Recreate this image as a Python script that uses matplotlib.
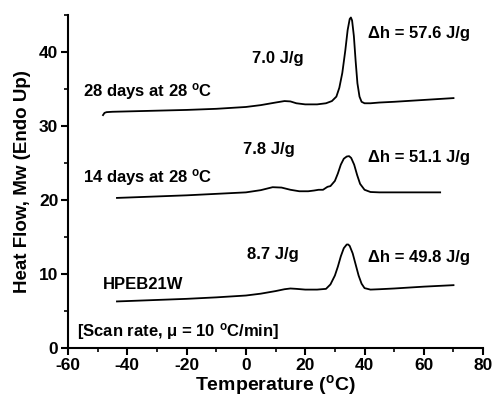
import matplotlib
matplotlib.use("Agg")
import matplotlib.pyplot as plt
from matplotlib.ticker import MultipleLocator

plt.rcParams['font.family'] = ['Liberation Sans', 'DejaVu Sans']
plt.rcParams['font.weight'] = 'bold'
plt.rcParams['axes.unicode_minus'] = False
plt.rcParams['mathtext.fontset'] = 'custom'
plt.rcParams['mathtext.rm'] = 'Liberation Sans:bold'
plt.rcParams['mathtext.bf'] = 'Liberation Sans:bold'
plt.rcParams['mathtext.it'] = 'Liberation Sans:bold'

# HPEB21W (as received)
t_0 = [-43.5, -40, -30, -20, -10, 0, 5, 10, 13, 15, 17, 20, 24, 27, 28.5, 30, 31, 32, 33, 34,
       34.5, 35, 36, 37, 38, 39, 40, 42, 45, 50, 60, 70]
y_0 = [6.3, 6.35, 6.5, 6.65, 6.85, 7.1, 7.35, 7.7, 7.95, 8.05, 8.0, 7.9, 7.9, 8.0, 8.6, 9.8, 11.0,
       12.4, 13.5, 14.0, 14.0, 13.8, 12.8, 11.3, 9.8, 8.7, 8.1, 7.9, 7.95, 8.05, 8.3, 8.5]

# 14 days at 28 C
t_14 = [-43.5, -40, -30, -20, -10, 0, 5, 9, 12, 15, 18, 21, 23, 24.5, 26, 27.5, 28.5, 30, 31, 32,
        33, 34, 34.8, 35.5, 36.5, 37.5, 38.5, 40, 42, 45, 50, 60, 65.5]
y_14 = [20.3, 20.35, 20.5, 20.65, 20.85, 21.05, 21.35, 21.75, 21.7, 21.4, 21.2, 21.2, 21.3, 21.4,
        21.4, 21.8, 21.9, 22.6, 23.6, 24.8, 25.6, 25.9, 25.95, 25.7, 24.8, 23.4, 22.2, 21.4, 21.1,
        21.05, 21.05, 21.05, 21.05]

# 28 days at 28 C
t_28 = [-48.2, -47.7, -47, -45, -40, -30, -20, -10, 0, 5, 10, 13, 15, 17, 20, 24, 27, 29, 30.5,
        31.5, 32.5, 33.5, 34.3, 35, 35.4, 35.8, 36.4, 37, 37.6, 38.3, 39, 40, 42, 45, 50, 60, 70]
y_28 = [31.5, 31.8, 31.9, 31.95, 32.0, 32.1, 32.2, 32.35, 32.6, 32.85, 33.2, 33.4, 33.35, 33.1,
        32.95, 32.95, 33.1, 33.4, 34.0, 35.2, 37.2, 40.2, 43.0, 44.5, 44.7, 44.3, 42.2, 38.8, 35.8,
        34.0, 33.3, 33.1, 33.1, 33.2, 33.3, 33.55, 33.8]

fig = plt.figure(figsize=(4.93, 3.98), dpi=100)
ax = fig.add_axes([0.138, 0.1256, 0.842, 0.836])

for t, y in [(t_0, y_0), (t_14, y_14), (t_28, y_28)]:
    ax.plot(t, y, color='black', lw=1.3)

ax.set_xlim(-60, 80)
ax.set_ylim(0, 45)
ax.xaxis.set_major_locator(MultipleLocator(20))
ax.xaxis.set_minor_locator(MultipleLocator(10))
ax.yaxis.set_major_locator(MultipleLocator(10))
ax.yaxis.set_minor_locator(MultipleLocator(5))
ax.spines['top'].set_visible(False)
ax.spines['right'].set_visible(False)
for s in ['left', 'bottom']:
    ax.spines[s].set_linewidth(1.5)
ax.tick_params(which='major', direction='out', length=5, width=1.5, labelsize=12.5, pad=2)
ax.tick_params(which='minor', direction='out', length=3, width=1.2)
for lab in ax.get_xticklabels() + ax.get_yticklabels():
    lab.set_fontweight('bold')

ax.set_xlabel(r'Temperature ($^\mathrm{o}$C)', fontsize=14, fontweight='bold', labelpad=0)
ax.set_ylabel('Heat Flow, Mw (Endo Up)', fontsize=13.5, fontweight='bold', labelpad=6)

fs = 12
ax.text(-55, 34.7, r'28 days at 28 $^\mathrm{o}$C', fontsize=fs, fontweight='bold', va='center')
ax.text(-55, 23.0, r'14 days at 28 $^\mathrm{o}$C', fontsize=fs, fontweight='bold', va='center')
ax.text(-48.2, 8.6, 'HPEB21W', fontsize=fs, fontweight='bold', va='center')
ax.text(-57, 2.2, r'[Scan rate, μ = 10 $^\mathrm{o}$C/min]', fontsize=fs, fontweight='bold', va='center')
ax.text(2.1, 39.2, '7.0 J/g', fontsize=fs, fontweight='bold', va='center')
ax.text(-1.0, 26.8, '7.8 J/g', fontsize=fs, fontweight='bold', va='center')
ax.text(0.4, 12.6, '8.7 J/g', fontsize=fs, fontweight='bold', va='center')
ax.text(41.2, 42.5, 'Δh = 57.6 J/g', fontsize=fs, fontweight='bold', va='center')
ax.text(41.2, 25.8, 'Δh = 51.1 J/g', fontsize=fs, fontweight='bold', va='center')
ax.text(41.2, 12.3, 'Δh = 49.8 J/g', fontsize=fs, fontweight='bold', va='center')

fig.savefig('out.png', dpi=100)
